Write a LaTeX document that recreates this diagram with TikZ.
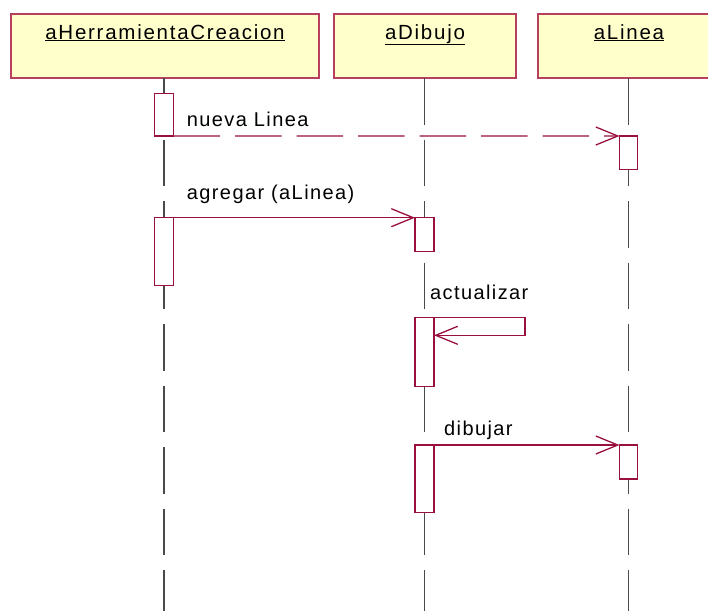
\documentclass[tikz,border=0pt]{standalone}
\usepackage{fontspec}
\setmainfont{Liberation Sans}
\newfontfamily\objfont{Liberation Sans}[LetterSpace=8.5]
\newfontfamily\msgfont{Liberation Sans}[LetterSpace=7]
\usetikzlibrary{arrows.meta}
\definecolor{objfill}{HTML}{FFFFCC}
\definecolor{objline}{HTML}{B8405E}
\definecolor{msgline}{HTML}{99103F}
\definecolor{lifegray}{HTML}{4A4A4A}
\begin{document}
\begin{tikzpicture}[x=1pt,y=-1pt,
  objbox/.style={draw=objline, fill=objfill, line width=1.4pt, minimum height=64pt,
    inner sep=0pt, outer sep=0pt},
  objlabel/.style={anchor=base, inner sep=0pt, font=\objfont\fontsize{20.5}{24}\selectfont},
  life/.style={draw=lifegray, line width=1.4pt, dash pattern=on 46.5pt off 15pt},
  actbox/.style={draw=msgline, fill=white, line width=1.3pt, minimum width=19pt,
    inner sep=0pt, outer sep=0pt, anchor=north},
  msg/.style={draw=msgline, line width=1.3pt,
    -{Straight Barb[length=22pt,width=18pt,line width=1.3pt]}},
  asyncmsg/.style={msg, dash pattern=on 46.5pt off 15pt},
  msglabel/.style={anchor=base west, inner sep=0pt, font=\msgfont\fontsize{20}{24}\selectfont}]
\useasboundingbox (0,0) rectangle (708,611);
\clip (0,0) rectangle (708,611);

% lifeline ends
\coordinate (eH) at (164,611);
\coordinate (eD) at (424.5,611);
\coordinate (eL) at (628.5,611);

% object boxes
\node[objbox, minimum width=308pt] (oH) at (165,46) {};
\node[objbox, minimum width=182pt] (oD) at (425,46) {};
\node[objbox, minimum width=182pt] (oL) at (629,46) {};
\node[objlabel] (lH) at (165,39) {\underline{aHerramientaCreacion}};
\node[objlabel] (lD) at (425,39) {\underline{aDibujo}};
\node[objlabel] (lL) at (629,39) {\underline{aLinea}};

% lifelines
\draw[life] (oH.south -| eH) -- (eH);
\draw[life] (oD.south -| eD) -- (eD);
\draw[life] (oL.south -| eL) -- (eL);

% activation bars
\node[actbox, minimum height=42.7pt] (a1) at (164,93.3) {};
\node[actbox, minimum height=33.3pt, minimum width=18pt] (a2) at (628.5,136) {};
\node[actbox, minimum height=67.6pt] (a3) at (164,217.7) {};
\node[actbox, minimum height=34pt] (a4) at (424.5,217.7) {};
\node[actbox, minimum height=69.4pt] (a5) at (424.5,317.3) {};
\node[actbox, minimum height=67.7pt] (a6) at (424.5,445) {};
\node[actbox, minimum height=34pt, minimum width=18pt] (a7) at (628.5,445) {};

% messages
\draw[asyncmsg] (a1.south east) -- (a2.north west);
\node[msglabel] (m1) at (186.7,126.7) {nueva Linea};

\draw[msg] (a3.north east) -- (a4.north west);
\node[msglabel] (m2) at (186.7,199.3) {agregar (aLinea)};

\coordinate (s1) at (525,317.3);
\coordinate (s2) at (525,335.3);
\draw[msg] (a5.north east) -- (s1) -- (s2) -- (a5.east |- s2);
\node[msglabel] (m3) at (430,299) {actualizar};

\draw[msg] (a6.north east) -- (a7.north west);
\node[msglabel] (m4) at (444,435.7) {dibujar};
\end{tikzpicture}
\end{document}
